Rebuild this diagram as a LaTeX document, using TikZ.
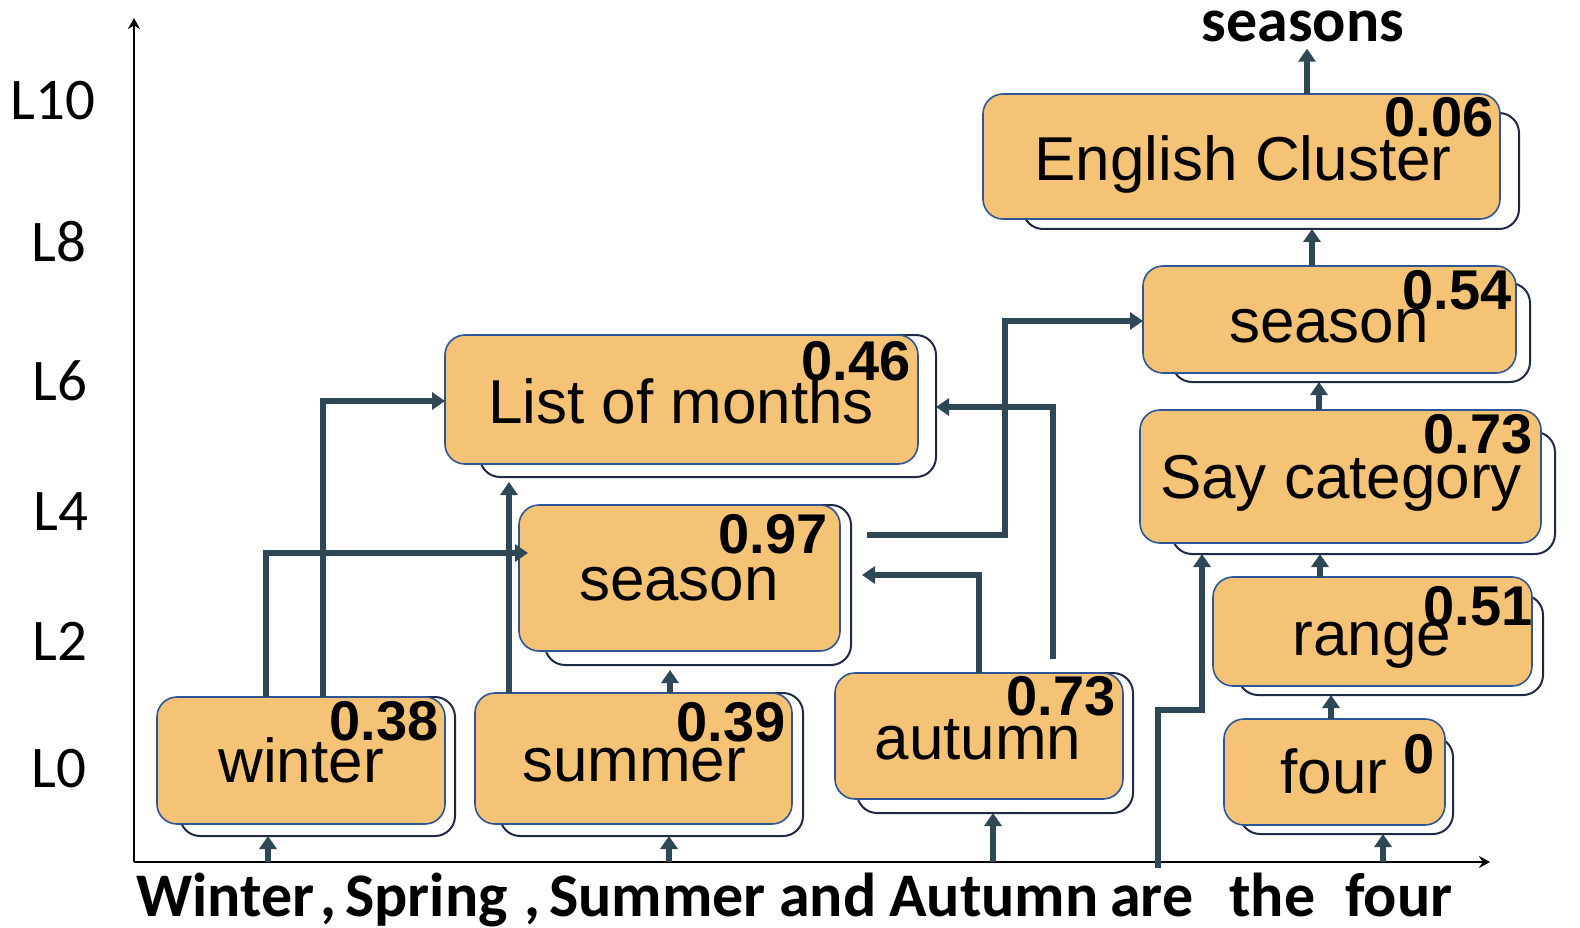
\documentclass[tikz,border=0pt]{standalone}
\usepackage{fontspec}
\setmainfont{Liberation Sans}
\newfontfamily\carlito{Carlito}
\usetikzlibrary{arrows.meta,calc}
\definecolor{boxfill}{RGB}{244,195,117}
\definecolor{boxline}{RGB}{47,85,151}
\definecolor{backline}{RGB}{31,42,68}
\definecolor{conncol}{RGB}{46,72,86}
\tikzset{
  frontbox/.style={draw=boxline, line width=1.6pt, fill=boxfill, rounded corners=20pt, inner sep=0pt, outer sep=0pt},
  backbox/.style={draw=backline, line width=2pt, fill=white, rounded corners=20pt, inner sep=0pt, outer sep=0pt},
  word/.style={inner sep=0pt, anchor=base, font=\fontsize{62}{70}\selectfont},
  score/.style={inner sep=0pt, anchor=base east, font=\fontsize{56}{60}\selectfont\bfseries},
  conn/.style={draw=conncol, line width=5.5pt, -{Triangle[width=17pt,length=13pt]}},
  axisline/.style={draw=black, line width=2.6pt, -{Stealth[width=12pt,length=11pt]}},
  tokenword/.style={inner sep=0pt, anchor=base west, font=\carlito\bfseries\fontsize{62}{70}\selectfont},
  layer/.style={inner sep=0pt, anchor=center, font=\carlito\fontsize{59}{62}\selectfont}
}
\newcommand\duobox[9]{%
  \node[backbox, minimum width={#8-#6}, minimum height={#9-#7}] (#1b) at ({(#6+#8)/2},{(#7+#9)/2}) {};
  \node[frontbox, minimum width={#4-#2}, minimum height={#5-#3}] (#1) at ({(#2+#4)/2},{(#3+#5)/2}) {};}
\begin{document}
\begin{tikzpicture}[x=1pt,y=-1pt]
\useasboundingbox (0,0) rectangle (1580,928);
% axes
\coordinate (axisL) at (134,862);
\coordinate (axisR) at (1490,862);
\coordinate (axisT) at (134,18);
\draw[axisline] (axisL) -- (axisT);
\draw[axisline] (axisL) -- (axisR);
% layer labels
\node[layer] (L10) at (53,101) {L10};
\node[layer] (L8) at (59,242) {L8};
\node[layer] (L6) at (60,381) {L6};
\node[layer] (L4) at (61,512) {L4};
\node[layer] (L2) at (60,641) {L2};
\node[layer] (L0) at (59,769) {L0};
% boxes
\duobox{winter}{157}{697}{445}{824}{180}{697}{455}{836}
\duobox{summer}{475}{693}{792}{824}{500}{693}{803}{836}
\duobox{autumn}{835}{673}{1123}{799}{857}{673}{1133}{813}
\duobox{seasonA}{519}{505}{840}{651}{545}{505}{851}{665}
\duobox{months}{445}{335}{918}{464}{480}{335}{936}{477}
\duobox{four}{1224}{719}{1445}{825}{1240}{737}{1453}{834}
\duobox{range}{1213}{577}{1532}{686}{1238}{595}{1543}{695}
\duobox{say}{1140}{410}{1541}{543}{1172}{432}{1555}{554}
\duobox{seasonB}{1143}{266}{1516}{373}{1172}{283}{1530}{382}
\duobox{english}{983}{94}{1500}{219}{1023}{113}{1519}{229}
% output word
\node[inner sep=0pt, anchor=base, font=\carlito\bfseries\fontsize{62}{70}\selectfont] (seasons) at (1303,42) {seasons};
% input tokens
\node[tokenword] (w1) at (136,916) {Winter};
\node[tokenword] (w2) at (320,916) {,};
\node[tokenword] (w3) at (345,916) {Spring};
\node[tokenword] (w4) at (524,916) {,};
\node[tokenword] (w5) at (549,916) {Summer};
\node[tokenword] (w6) at (779,916) {and};
\node[tokenword] (w7) at (889,916) {Autumn};
\node[tokenword] (w8) at (1110,916) {are};
\node[tokenword] (w9) at (1229,916) {the};
\node[tokenword] (w10) at (1345,916) {four};
\coordinate (theStart) at (1158,868);
% connectors
\draw[conn] (winter.north -| 323,0) |- (months.west |- 0,401);
\draw[conn, shorten >=-9pt] (winter.north -| 266,0) |- (seasonA.west |- 0,553);
\draw[conn, shorten >=5pt] (summer.north -| 509,0) -- (monthsb.south -| 509,0);
\draw[conn, shorten >=5pt] (summer.north -| 670,0) -- (seasonAb.south -| 670,0);
\draw[conn, shorten >=11pt] (autumn.north -| 979,0) |- (seasonAb.east |- 0,575);
\draw[conn] ($(autumn.north -| 1053,0)+(0,-14)$) |- (monthsb.east |- 0,407);
\draw[conn] ($(seasonAb.east |- 0,535)+(16,0)$) -| (1005,321) -- (seasonB.west |- 0,321);
\draw[conn] (axisL -| 268,0) -- (winterb.south -| 268,0);
\draw[conn] (axisL -| 669,0) -- (summerb.south -| 669,0);
\draw[conn] (axisL -| 993,0) -- (autumnb.south -| 993,0);
\draw[conn] (axisL -| 1383,0) -- (fourb.south -| 1383,0);
\draw[conn] (theStart) |- (1202,710) -- (sayb.south -| 1202,0);
\draw[conn] (four.north -| 1331,0) -- (rangeb.south -| 1331,0);
\draw[conn] (range.north -| 1320,0) -- (sayb.south -| 1320,0);
\draw[conn] (say.north -| 1319,0) -- (seasonBb.south -| 1319,0);
\draw[conn] (seasonB.north -| 1312,0) -- (englishb.south -| 1312,0);
\draw[conn, shorten >=6pt] (english.north -| 1307,0) -- (seasons.south -| 1307,0);
% labels in boxes
\node[word] (twinter) at (301,782) {winter};
\node[score] (swinter) at (439,740) {0.38};
\node[word] (tsummer) at (634,781) {summer};
\node[score] (ssummer) at (786,741) {0.39};
\node[word] (tseasonA) at (679,600) {season};
\node[score] (sseasonA) at (828,553) {0.97};
\node[word] (tmonths) at (681,423) {List of months};
\node[score] (smonths) at (911,380) {0.46};
\node[word] (tautumn) at (978,759) {autumn};
\node[score] (sautumn) at (1116,715) {0.73};
\node[word] (tfour) at (1334,793) {four};
\node[score] (sfour) at (1435,773) {0};
\node[word] (trange) at (1372,655) {range};
\node[score] (srange) at (1533,625) {0.51};
\node[word] (tsay) at (1341,498) {Say category};
\node[score] (ssay) at (1533,453) {0.73};
\node[word] (tseasonB) at (1329,342) {season};
\node[score] (sseasonB) at (1512,309) {0.54};
\node[word] (tenglish) at (1243,181) {English Cluster};
\node[score] (senglish) at (1494,137) {0.06};
\end{tikzpicture}
\end{document}
